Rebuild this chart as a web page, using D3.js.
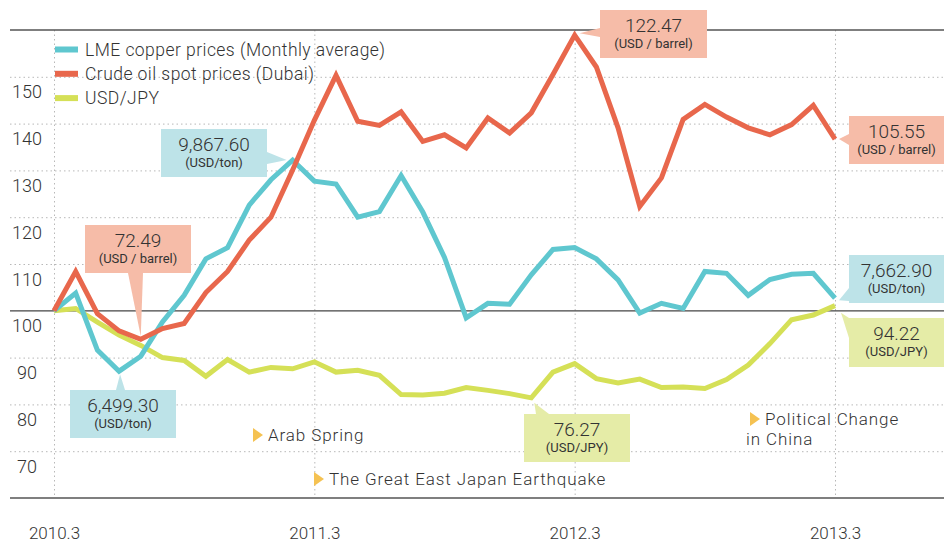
<!DOCTYPE html>
<html>
<meta charset="utf-8">
<title>Copper, oil and USD/JPY index</title>
<style>
  html, body {
    margin: 0;
    padding: 0;
    background: #fff;
  }
  svg text {
    font-family: Roboto, "Noto Sans", sans-serif;
    font-weight: 300;
    fill: #333;
  }
  .grid line {
    stroke: #b8b8b8;
    stroke-width: 1;
    stroke-dasharray: 1.5,3;
  }
  .series {
    fill: none;
    stroke-width: 5;
    stroke-linejoin: miter;
    stroke-miterlimit: 3;
  }
</style>
<body>
<div id="chart"></div>
<script src="https://d3js.org/d3.v7.min.js"></script>
<script>
// monthly index, 2010.3 = 100
var copper = [100, 103.8, 91.6, 87.1, 90.3, 97.6, 103.3, 111.1, 113.5, 122.6, 128.0, 132.2,
  127.7, 127.1, 120.0, 121.2, 128.9, 121.1, 111.4, 98.5, 101.6, 101.4, 107.7, 113.1,
  113.5, 111.1, 106.6, 99.5, 101.6, 100.5, 108.4, 108.0, 103.3, 106.7, 107.8, 108.0, 102.7];
var oil = [100, 108.4, 99.4, 95.7, 93.9, 96.2, 97.3, 103.9, 108.4, 115.1, 120.0, 130.1,
  140.7, 150.3, 140.5, 139.6, 142.5, 136.2, 137.6, 134.8, 141.2, 138.0, 142.3, 150.5,
  158.9, 152.1, 139.1, 122.3, 128.4, 140.9, 144.1, 141.4, 139.1, 137.6, 139.8, 143.9, 136.7];
var jpy = [100, 100.5, 97.6, 94.8, 92.6, 90.0, 89.4, 86.0, 89.6, 86.9, 87.9, 87.6,
  89.1, 86.9, 87.3, 86.2, 82.1, 82.0, 82.4, 83.6, 83.0, 82.3, 81.4, 86.9,
  88.7, 85.5, 84.6, 85.4, 83.6, 83.7, 83.4, 85.3, 88.4, 93.0, 98.1, 99.1, 101.1];

var months = [];
for (var m = 0; m < copper.length; m++) {
  var mm = 3 + m;
  months.push((2010 + Math.floor((mm - 1) / 12)) + "." + (((mm - 1) % 12) + 1));
}
var xTicks = ["2010.3", "2011.3", "2012.3", "2013.3"];
var yTicks = [70, 80, 90, 100, 110, 120, 130, 140, 150];
var gridVals = [70, 80, 90, 110, 120, 130, 140, 150];

var legendNames = ["LME copper prices (Monthly average)", "Crude oil spot prices (Dubai)", "USD/JPY"];
var colors = ["#5fc7cf", "#e8674c", "#d5e057"];
var boxColors = {cu: "#bde3e8", oil: "#f6bca8", jpy: "#e5eca7"};

// callouts: series, month, value text, unit; box + pointer are layout only
var callouts = [
  {s: "cu", m: "2011.2", text: "9,867.60", unit: "(USD/ton)", box: [161, 129, 106, 48], base: [[267, 152], [267, 164]], off: [-6, 0]},
  {s: "oil", m: "2010.7", text: "72.49", unit: "(USD / barrel)", box: [85, 225, 106, 48], base: [[128, 273], [143, 273]], off: [0, -3]},
  {s: "cu", m: "2010.6", text: "6,499.30", unit: "(USD/ton)", box: [70, 390, 106, 48], base: [[116, 390], [125, 390]], off: [1, 3]},
  {s: "oil", m: "2012.3", text: "122.47", unit: "(USD / barrel)", box: [600, 10, 107, 48], base: [[600, 28], [600, 37]], off: [5, -2]},
  {s: "oil", m: "2013.3", text: "105.55", unit: "(USD / barrel)", box: [849, 116, 95, 48], base: [[849, 134], [849, 145]], off: [4, 0]},
  {s: "cu", m: "2013.3", text: "7,662.90", unit: "(USD/ton)", box: [849, 255, 95, 48], base: [[849, 288], [849, 301]], off: [4, 2]},
  {s: "jpy", m: "2013.3", text: "94.22", unit: "(USD/JPY)", box: [849, 318, 95, 49], base: [[849, 318], [849, 338]], off: [6, 7]},
  {s: "jpy", m: "2012.1", text: "76.27", unit: "(USD/JPY)", box: [524, 414, 106, 48], base: [[536, 414], [549, 414]], off: [3, 5]}
];

var events = [
  {lines: ["Arab Spring"], x: 253, y: 435},
  {lines: ["The Great East Japan Earthquake"], x: 314, y: 479},
  {lines: ["Political Change", "in China"], x: 750, y: 419}
];

var W = 944, H = 543;
var seriesBy = {cu: copper, oil: oil, jpy: jpy};

var svg = d3.select("#chart").append("svg")
  .attr("width", W)
  .attr("height", H);

var x = d3.scalePoint().domain(months).range([54, 835]);
var y = d3.scaleLinear().domain([60, 160]).range([498, 30]);

// horizontal dotted grid
svg.append("g")
  .attr("class", "grid")
  .attr("transform", "translate(10,0)")
  .call(d3.axisLeft(y).tickValues(gridVals).tickSize(-(W - 10)).tickFormat(""))
  .call(function(g) { g.select(".domain").remove(); });

// vertical dotted grid
svg.append("g")
  .attr("class", "grid")
  .attr("transform", "translate(0,30)")
  .call(d3.axisBottom(x).tickValues(xTicks).tickSize(465).tickFormat(""))
  .call(function(g) { g.select(".domain").remove(); });

// solid lines at 60, 100, 160
svg.append("g").selectAll("line")
  .data([60, 100, 160])
  .enter().append("line")
  .attr("x1", 10)
  .attr("x2", W)
  .attr("y1", function(d) { return y(d); })
  .attr("y2", function(d) { return y(d); })
  .attr("stroke", function(d) { return d == 100 ? "#444" : "#555"; })
  .attr("stroke-width", function(d) { return d == 100 ? 1.3 : 1.6; });

// y labels
svg.append("g")
  .attr("transform", "translate(27,0)")
  .call(d3.axisLeft(y).tickValues(yTicks).tickSize(0).tickPadding(0))
  .call(function(g) {
    g.select(".domain").remove();
    g.selectAll("text")
      .attr("x", 0)
      .attr("dy", "21")
      .attr("text-anchor", "middle")
      .style("font-size", "18px")
      .style("font-family", null);
  });

// x labels
svg.append("g")
  .attr("transform", "translate(0,498)")
  .call(d3.axisBottom(x).tickValues(xTicks).tickSize(0).tickPadding(0))
  .call(function(g) {
    g.select(".domain").remove();
    g.selectAll("text")
      .attr("y", 41)
      .attr("dy", 0)
      .style("font-size", "17px")
      .style("font-family", null);
  });

// lines
var line = d3.line()
  .x(function(d, i) { return x(months[i]); })
  .y(function(d) { return y(d); });

[[jpy, 2], [copper, 0], [oil, 1]].forEach(function(s) {
  svg.append("path")
    .datum(s[0])
    .attr("class", "series")
    .attr("stroke", colors[s[1]])
    .attr("d", line);
});

// legend
var leg = svg.append("g").selectAll("g")
  .data(legendNames)
  .enter().append("g")
  .attr("transform", function(d, i) { return "translate(55," + (49.5 + i * 24.3) + ")"; });
leg.append("rect")
  .attr("x", 0).attr("y", -3)
  .attr("width", 23).attr("height", 6)
  .attr("fill", function(d, i) { return colors[i]; });
leg.append("text")
  .attr("x", 30)
  .attr("dy", "0.36em")
  .style("font-size", "17.5px")
  .style("letter-spacing", "0.45px")
  .text(function(d) { return d; });

// callouts
var co = svg.append("g").selectAll("g")
  .data(callouts)
  .enter().append("g");
co.append("path")
  .attr("fill", function(d) { return boxColors[d.s]; })
  .attr("d", function(d) {
    var vals = seriesBy[d.s];
    var i = months.indexOf(d.m);
    var tip = [x(d.m) + d.off[0], y(vals[i]) + d.off[1]];
    return "M" + d.base[0] + "L" + tip + "L" + d.base[1] + "Z";
  });
co.append("rect")
  .attr("x", function(d) { return d.box[0]; })
  .attr("y", function(d) { return d.box[1]; })
  .attr("width", function(d) { return d.box[2]; })
  .attr("height", function(d) { return d.box[3]; })
  .attr("fill", function(d) { return boxColors[d.s]; });
co.append("text")
  .attr("x", function(d) { return d.box[0] + d.box[2] / 2; })
  .attr("y", function(d) { return d.box[1] + 21.5; })
  .attr("text-anchor", "middle")
  .style("font-size", "19px")
  .text(function(d) { return d.text; });
co.append("text")
  .attr("x", function(d) { return d.box[0] + d.box[2] / 2; })
  .attr("y", function(d) { return d.box[1] + 38; })
  .attr("text-anchor", "middle")
  .style("font-size", "13px")
  .style("font-weight", 400)
  .text(function(d) { return d.unit; });

// events
var ev = svg.append("g").selectAll("g")
  .data(events)
  .enter().append("g")
  .attr("transform", function(d) { return "translate(" + d.x + "," + d.y + ")"; });
ev.append("path")
  .attr("d", "M0,-7L10,0L0,7Z")
  .attr("fill", "#f5c252");
ev.each(function(d) {
  var g = d3.select(this);
  d.lines.forEach(function(t, k) {
    g.append("text")
      .attr("x", k == 0 ? 15 : -4)
      .attr("y", k * 20)
      .attr("dy", "0.36em")
      .style("font-size", "17px")
      .style("letter-spacing", "0.9px")
      .text(t);
  });
});
</script>
</body>
</html>
